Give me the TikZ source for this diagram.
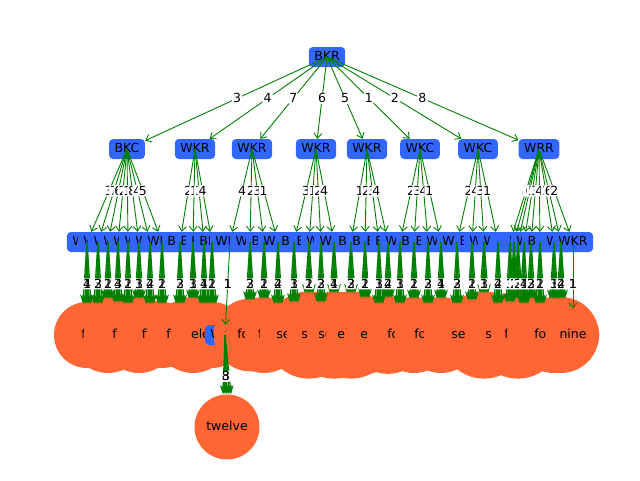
\documentclass[tikz,border=0pt]{standalone}
\usepackage{fontspec}
\setmainfont{DejaVu Sans}
\usetikzlibrary{arrows.meta}
\definecolor{nblue}{RGB}{51,102,255}
\definecolor{norange}{RGB}{255,102,51}
\definecolor{egreen}{RGB}{0,128,0}
\newcommand\ovl[2]{\rlap{#1}#2}
\def\levdata{1/87/WKR/1/3/fifteen/1/4,2/98/WKR/1/7/four/2/3,3/108/WKC/1/6/fourteen/1/2,4/118/WKR/1/2/sixteen/3/4,5/128/WKR/1/1/five/2/1,6/139/WKC/1/8/fourteen/1/3,7/150/WKR/1/4/fifteen/4/2,8/162/WKR/1/5/fifteen/1/2,9/180/BKR/2/2/eleven/2/3,10/193/BKC/2/1/fourteen/3/1,11/204/BKR/2/3/fifteen/1/4,12/212/BKR/2/4/eleven/2/1,13/230/WKR/3/4/WKR/1/1,14/250/WKC/3/2/thirteen/3/2,15/264/BKC/3/3/fourteen/1/2,16/278/WKR/3/1/fifteen/2/4,17/294/BKR/4/3/sixteen/1/3,18/309/BKC/4/1/seventeen/2/1,19/321/WKR/4/2/sixteen/3/2,20/334/WKC/4/4/seventeen/1/4,21/351/BKR/5/1/seventeen/2/3,22/365/BKR/5/2/eighteen/1/2,23/379/BKC/5/3/eleven/3/1,24/388/BKR/5/4/eighteen/2/4,25/400/WKR/6/2/fifteen/1/3,26/414/BKR/6/3/fourteen/2/1,27/428/BKC/6/4/fifteen/3/2,28/441/WKR/6/1/fourteen/1/4,29/457/WKR/7/2/fifteen/2/3,30/472/BKC/7/4/thirteen/1/2,31/484/WKR/7/3/seventeen/3/1,32/498/WKC/7/1/fifteen/2/4,33/510/WKR/8/8/sixteen/1/3,34/514/WKC/8/7/fourteen/2/1,35/518/WKR/8/6/seventeen/3/2,36/524/WKR/8/5/fifteen/1/4,37/531/WKR/8/3/fourteen/2/3,38/540/BKC/8/4/fifteen/1/2,39/554/BKR/8/1/fourteen/3/1,40/561/WKR/8/6/fourteen/2/4,41/573/WKR/8/2/nine/1/1}
\begin{document}
\begin{tikzpicture}[x=1pt,y=-1pt,font=\fontsize{12.5}{15}\selectfont,
  bbox/.style={rounded corners=4pt,fill=nblue,inner xsep=5.5pt,inner ysep=4pt,text height=9.5pt,text depth=2.5pt},
  obox/.style={circle,fill=norange,inner sep=8.5pt,text height=9.5pt,text depth=2.5pt},
  tedge/.style={draw=egreen,line width=0.9pt,-{Straight Barb[length=5pt,width=8pt]}},
  fatedge/.style={draw=egreen,line width=1.3pt,-{Stealth[length=9pt,width=7pt]}},
  elab/.style={fill=white,rounded corners=2pt,inner sep=1.2pt,text height=8.5pt,text depth=0pt}]
\useasboundingbox (0,0) rectangle (640,480);
% nodes
\node[bbox] (r) at (327,57) {BKR};
\foreach \n/\x/\t in {1/127/BKC,2/195/WKR,3/252/WKR,4/316/WKR,5/367/WKR,6/420/WKC,7/478/WKC,8/539/WRR}
  \node[bbox] (p\n) at (\x,149) {\t};
\foreach \i/\x/\t/\p/\l/\w/\a/\b in \levdata
  \node[bbox] (c\i) at (\x,242) {\t};
\foreach \i/\x/\t/\p/\l/\w/\a/\b in \levdata {
  \ifnum\i=13
    \node[bbox] (o13) at (225,335) {\w};
  \else\ifnum\i=41
    \node[obox] (o41) at (\x,335) {\w};
  \else
    \node[obox,minimum size=66pt] (o\i) at (\x,335) {\w};
  \fi\fi
}
\node[obox] (tw) at (227,427) {twelve};
% edges
\foreach \n in {1,...,8}
  \draw[tedge] (r.center) -- (p\n);
\foreach \i/\x/\t/\p/\l/\w/\a/\b in \levdata
  \draw[tedge] (p\p.center) -- (c\i);
\foreach \i/\x/\t/\p/\l/\w/\a/\b in \levdata {
  \ifnum\i=13 \else\ifnum\i=41 \else
    \foreach \d in {-4,-2,0,2,4}
      \draw[fatedge] (c\i.center) -- ([xshift=\d pt,yshift=-2pt]o\i.north);
  \fi\fi
}
\draw[tedge] (c13.center) -- (o13);
\draw[tedge] (c41.center) -- (o41);
\foreach \d in {-4,-2,0,2,4}
  \draw[fatedge] (o13.center) -- ([xshift=\d pt]tw.north);
% edge labels
\foreach \n/\l in {1/3,2/4,3/7,4/6,5/5,6/1,7/2,8/8}
  \path (r.center) -- (p\n.center) node[elab,pos=0.45] {\l};
\foreach \i/\x/\t/\p/\l/\w/\a/\b in \levdata
  \path (p\p.center) -- (c\i.center) node[elab,pos=0.45] {\l};
\foreach \i/\x/\t/\p/\l/\w/\a/\b in \levdata
  \path (c\i.center) -- (o\i.center) node[elab,pos=0.45] {\ovl{\a}{\b}};
\path (o13.center) -- (tw.center) node[elab,pos=0.45] {\ovl{8}{3}};
\end{tikzpicture}
\end{document}
